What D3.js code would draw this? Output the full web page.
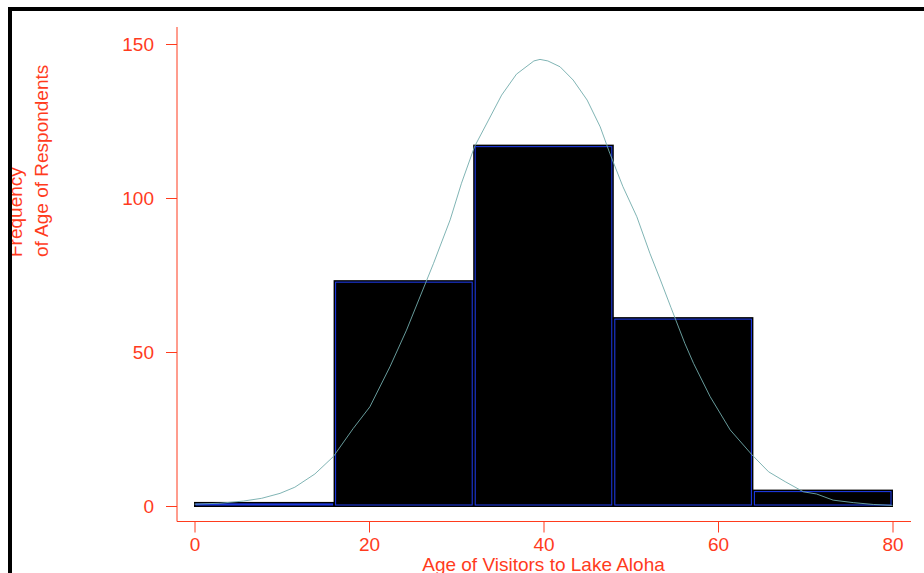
<!DOCTYPE html>
<html>
<head>
<meta charset="utf-8">
<script src="https://cdn.jsdelivr.net/npm/d3@7"></script>
<style>
  html, body { margin: 0; padding: 0; background: #fff; }
  svg { display: block; }
  text { font-family: "Liberation Sans", Arial, sans-serif; }
</style>
</head>
<body>
<script>
// Histogram bins (age of visitors) and respondent counts
const binStart = [0, 16, 32, 48, 64];
const binEnd = [16, 32, 48, 64, 80];
const frequency = [1, 73, 117, 61, 5];

// Overlaid normal-shaped density curve, scaled to counts
const curveAge = [0, 2.9, 5.6, 7.7, 9.8, 11.5, 13.8, 15.9, 18.2, 20.1, 22.4, 24.3, 25.7, 27.4, 29.3,
  30.6, 32.1, 33.7, 35.2, 36.9, 38.9, 39.6, 40.5, 41.9, 43.4, 45.0, 46.5, 47.6, 49.1, 50.7, 52.2,
  53.4, 54.6, 56.2, 57.2, 59.1, 61.4, 63.9, 65.8, 67.7, 69.8, 71.3, 73.2, 75.5, 77.8, 80];
const curveFreq = [0.6, 0.9, 1.6, 2.5, 4.1, 6.1, 10.4, 16.0, 25.2, 32.2, 45.2, 57.1, 66.9, 78.8, 92.9,
  104.8, 116.7, 125.3, 133.4, 140.2, 144.5, 145.0, 144.5, 142.6, 138.3, 131.8, 123.1, 114.5, 103.7, 93.9, 82.0,
  73.4, 64.5, 52.8, 46.3, 35.5, 24.7, 16.6, 11.1, 7.9, 4.6, 3.9, 1.9, 1.1, 0.5, 0.2];

// Tick labels
const ageTicks = [0, 20, 40, 60, 80];
const freqTicks = [0, 50, 100, 150];

const xTitle = "Age of Visitors to Lake Aloha";
const yTitleLines = ["Frequency", "of Age of Respondents"];

const W = 924, H = 573;
const axisColor = "#ff3b1d";
const fontSize = 19;

const svg = d3.select("body").append("svg")
  .attr("width", W).attr("height", H);

const x = d3.scaleLinear().domain([0, 80]).range([194.5, 892.5]);
const y = d3.scaleLinear().domain([0, 150]).range([506, 44]);

const axisX = 177, axisY = 521.5;

// Bars: black body with a black outline and a blue inner edge
const bars = svg.append("g").attr("class", "bars");
binStart.forEach((s, i) => {
  const x0 = x(s) + 0.5, x1 = x(binEnd[i]) - 0.5;
  const yTop = y(frequency[i]), yBot = y(0);
  bars.append("rect")
    .attr("x", x0).attr("y", yTop)
    .attr("width", x1 - x0).attr("height", yBot - yTop)
    .attr("fill", "#000").attr("stroke", "#000").attr("stroke-width", 2);
  const h = Math.max(0, yBot - yTop - 2);
  bars.append("rect")
    .attr("x", x0 + 1).attr("y", yTop + 1)
    .attr("width", x1 - x0 - 2).attr("height", h)
    .attr("fill", "none").attr("stroke", "#1f3df0").attr("stroke-width", 1);
});

// Density curve
const pts = curveAge.map((a, i) => [a, curveFreq[i]]);
svg.append("path")
  .datum(pts)
  .attr("fill", "none")
  .attr("stroke", "#72abab")
  .attr("stroke-width", 0.9)
  .attr("d", d3.line().x(d => x(d[0])).y(d => y(d[1])));

// Axes
const gy = svg.append("g")
  .attr("transform", `translate(${axisX},0)`)
  .call(d3.axisLeft(y).tickValues(freqTicks).tickSize(11).tickPadding(12).tickSizeOuter(0));
const gx = svg.append("g")
  .attr("transform", `translate(0,${axisY})`)
  .call(d3.axisBottom(x).tickValues(ageTicks).tickSize(11).tickPadding(5).tickSizeOuter(0));

[gy, gx].forEach(g => {
  g.select(".domain").remove();
  g.selectAll(".tick line").attr("stroke", axisColor);
  g.selectAll(".tick text")
    .attr("fill", axisColor)
    .style("font-size", fontSize + "px")
    .style("font-family", "'Liberation Sans', Arial, sans-serif");
});

// Axis lines
svg.append("line")
  .attr("x1", axisX).attr("x2", axisX).attr("y1", 27).attr("y2", axisY)
  .attr("stroke", axisColor).attr("stroke-width", 1);
svg.append("line")
  .attr("x1", axisX).attr("x2", 911).attr("y1", axisY).attr("y2", axisY)
  .attr("stroke", axisColor).attr("stroke-width", 1);

// Axis titles
svg.append("text")
  .attr("x", x(40)).attr("y", 571)
  .attr("text-anchor", "middle")
  .attr("fill", axisColor)
  .style("font-size", fontSize + "px")
  .text(xTitle);

const yBaselines = [22, 48];
yTitleLines.forEach((t, i) => {
  svg.append("text")
    .attr("transform", `translate(${yBaselines[i]},257) rotate(-90)`)
    .attr("text-anchor", "start")
    .attr("fill", axisColor)
    .style("font-size", fontSize + "px")
    .text(t);
});

// Outer frame
svg.append("rect")
  .attr("x", 10).attr("y", 9)
  .attr("width", 1000).attr("height", 1000)
  .attr("fill", "none").attr("stroke", "#000").attr("stroke-width", 4);
</script>
</body>
</html>
